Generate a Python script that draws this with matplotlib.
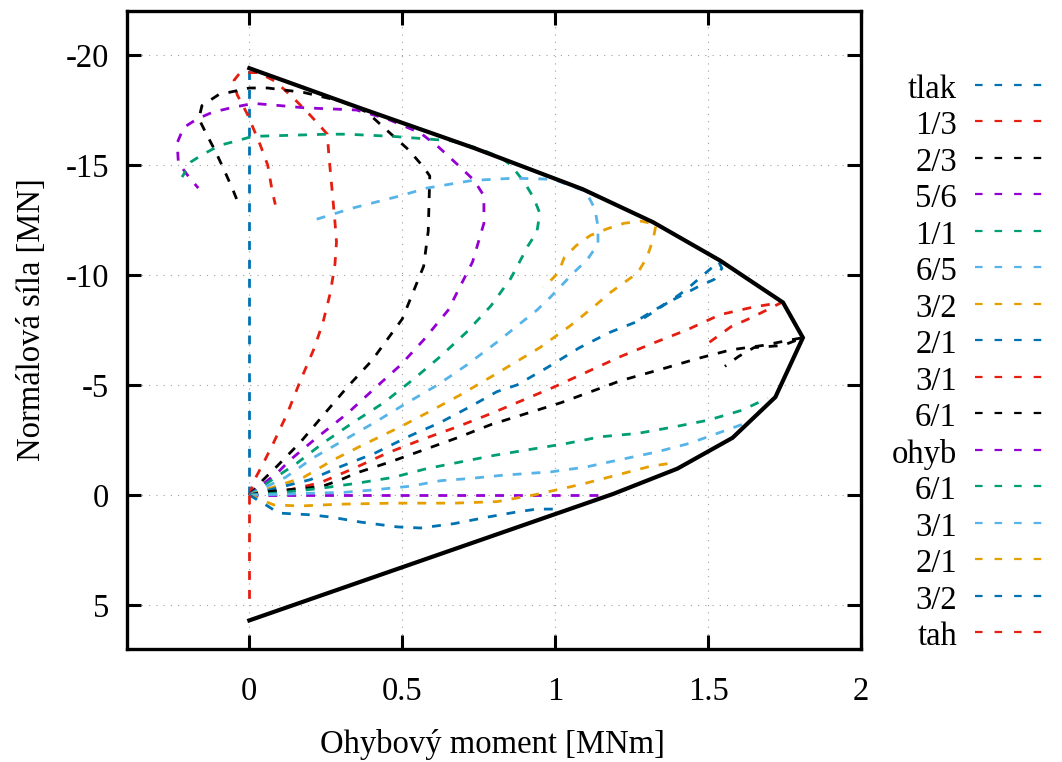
import matplotlib
matplotlib.use("Agg")
import matplotlib.pyplot as plt
from matplotlib.lines import Line2D

plt.rcParams['font.family'] = ['Liberation Serif', 'DejaVu Serif']
plt.rcParams['axes.unicode_minus'] = False

# --- colours (gnuplot default set) ---
BLUE = '#0072b2'
RED = '#e51e10'
BLACK = '#000000'
PURPLE = '#9400d3'
GREEN = '#009e73'
LBLUE = '#56b4e9'
ORANGE = '#e69f00'

# --- interaction envelope (M [MNm], N [MN]) ---
env_m = [0.0, 0.36, 0.735, 1.09, 1.32, 1.54, 1.745, 1.81, 1.72, 1.58, 1.40, 1.19, 0.0]
env_n = [-19.4, -17.6, -15.77, -13.9, -12.4, -10.65, -8.75, -7.15, -4.45, -2.6, -1.2, -0.05, 5.7]

# --- loading paths ---
tlak_m = [0.0, 0.0]
tlak_n = [0.0, -19.3]

r13_m = [0.0, 0.02, 0.046, 0.08, 0.124, 0.167, 0.21, 0.24, 0.265, 0.28, 0.285, 0.28, 0.27, 0.26,
         0.255, 0.22, 0.183, 0.14, 0.085, 0.03, -0.03, -0.05, -0.04, -0.006, 0.036, 0.06, 0.075, 0.085]
r13_n = [0.0, -0.77, -1.45, -2.4, -3.7, -5.2, -6.6, -7.8, -9.2, -10.5, -11.5, -12.4, -13.95, -15.45,
         -16.4, -16.95, -17.5, -18.1, -18.8, -19.2, -19.2, -18.85, -18.2, -17.3, -15.9, -15.0, -13.8, -13.2]

r23_m = [0.0, 0.046, 0.09, 0.167, 0.24, 0.32, 0.40, 0.5, 0.57, 0.585, 0.59, 0.57, 0.52, 0.44, 0.385,
         0.3, 0.177, 0.06, 0.0, -0.1, -0.155, -0.165, -0.14, -0.11, -0.085, -0.056, -0.04]
r23_n = [0.0, -0.7, -1.3, -2.4, -3.6, -4.9, -6.1, -8.0, -10.4, -12.0, -14.5, -14.9, -15.7, -16.7, -17.4,
         -17.9, -18.3, -18.5, -18.5, -18.2, -17.7, -17.1, -16.4, -15.6, -14.85, -13.95, -13.4]

r56_m = [0.0, 0.095, 0.134, 0.22, 0.32, 0.41, 0.494, 0.57, 0.65, 0.73, 0.767, 0.767, 0.735, 0.69, 0.62,
         0.56, 0.45, 0.35, 0.18, 0.1, 0.013, -0.06, -0.12, -0.17, -0.215, -0.236, -0.232, -0.2, -0.167]
r56_n = [0.0, -1.05, -1.6, -2.6, -3.7, -4.85, -5.9, -7.05, -8.4, -10.6, -12.35, -13.6, -14.3, -14.9, -15.8,
         -16.45, -17.1, -17.5, -17.6, -17.7, -17.8, -17.6, -17.4, -17.1, -16.7, -16.0, -15.1, -14.5, -13.95]

r11_m = [0.0, 0.156, 0.24, 0.34, 0.44, 0.54, 0.625, 0.71, 0.79, 0.855, 0.88, 0.91, 0.94, 0.95, 0.93,
         0.9, 0.855, 0.82, 0.75, 0.66, 0.47, 0.32, 0.255, 0.01, -0.04, -0.095, -0.15, -0.19, -0.22]
r11_n = [0.0, -1.45, -2.35, -3.3, -4.2, -5.3, -6.3, -7.4, -8.6, -9.85, -10.5, -11.3, -11.95, -12.8, -13.5,
         -14.2, -15.0, -15.35, -15.75, -16.1, -16.3, -16.4, -16.4, -16.3, -16.1, -15.9, -15.5, -15.15, -14.45]

r65_m = [0.0, 0.118, 0.21, 0.31, 0.41, 0.517, 0.615, 0.71, 0.81, 0.94, 0.985, 1.06, 1.105, 1.14, 1.14,
         1.13, 1.1, 0.995, 0.865, 0.73, 0.58, 0.494, 0.34, 0.2]
r65_n = [0.0, -0.8, -1.7, -2.5, -3.3, -4.2, -5.0, -5.9, -6.95, -8.4, -9.0, -10.1, -10.7, -11.4, -12.2,
         -13.0, -13.8, -14.35, -14.4, -14.3, -13.95, -13.6, -13.05, -12.45]

r32_m = [0.0, 0.177, 0.275, 0.375, 0.494, 0.59, 0.69, 0.8, 0.95, 1.05, 1.13, 1.18, 1.22, 1.27, 1.3,
         1.32, 1.33, 1.28, 1.225, 1.17, 1.115, 1.07, 1.03, 1.01, 0.975, 0.96]
r32_n = [0.0, -0.8, -1.6, -2.3, -3.1, -3.8, -4.55, -5.45, -6.7, -7.7, -8.6, -9.2, -9.6, -10.1, -10.8,
         -11.6, -12.3, -12.45, -12.35, -12.1, -11.8, -11.35, -10.8, -10.1, -9.6, -9.45]

r21_m = [0.0, 0.2, 0.3, 0.41, 0.527, 0.625, 0.72, 0.81, 0.875, 0.975, 1.08, 1.18, 1.28, 1.335, 1.38,
         1.43, 1.48, 1.535, 1.545, 1.52, 1.465, 1.41, 1.355, 1.3, 1.265]
r21_n = [0.0, -0.7, -1.3, -1.9, -2.7, -3.3, -4.0, -4.7, -5.0, -5.8, -6.7, -7.4, -7.95, -8.45, -8.85,
         -9.35, -9.95, -10.6, -10.3, -9.8, -9.45, -9.05, -8.65, -8.2, -7.9]

r31_m = [0.0, 0.12, 0.23, 0.34, 0.45, 0.56, 0.68, 0.79, 0.995, 1.215, 1.32, 1.43, 1.54, 1.65, 1.74,
         1.705, 1.64, 1.575, 1.53, 1.49]
r31_n = [0.0, -0.2, -0.55, -1.2, -1.9, -2.5, -3.1, -3.7, -4.9, -6.3, -6.9, -7.5, -8.2, -8.55, -8.75,
         -8.5, -8.05, -7.65, -7.2, -6.8]

r61_m = [0.0, 0.06, 0.118, 0.177, 0.24, 0.3, 0.35, 0.46, 0.57, 0.68, 0.79, 1.02, 1.215, 1.355, 1.465,
         1.575, 1.68, 1.77, 1.81, 1.745, 1.65, 1.6, 1.555]
r61_n = [0.0, -0.15, -0.23, -0.3, -0.4, -0.7, -1.0, -1.5, -2.05, -2.6, -3.2, -4.2, -5.2, -5.75, -6.2,
         -6.6, -6.8, -7.05, -7.15, -6.8, -6.7, -6.3, -5.85]

ohyb_m = [0.0, 1.17]
ohyb_n = [0.0, 0.0]

g61_m = [0.0, 0.1, 0.23, 0.35, 0.47, 0.58, 0.69, 0.8, 0.865, 1.04, 1.15, 1.27, 1.39, 1.5, 1.61, 1.695]
g61_n = [0.0, -0.1, -0.3, -0.53, -0.8, -1.2, -1.5, -1.8, -1.95, -2.35, -2.65, -2.8, -3.1, -3.4, -3.85, -4.4]

b31_m = [0.0, 0.1, 0.2, 0.31, 0.405, 0.526, 0.625, 0.72, 0.83, 0.985, 1.1, 1.21, 1.33, 1.44, 1.56, 1.64]
b31_n = [0.0, -0.03, -0.08, -0.12, -0.23, -0.4, -0.65, -0.75, -0.9, -1.05, -1.27, -1.6, -1.95, -2.35, -2.95, -3.35]

o21_m = [0.0, 0.08, 0.167, 0.29, 0.47, 0.67, 0.81, 0.93, 1.09, 1.2, 1.31, 1.38]
o21_n = [0.0, 0.45, 0.5, 0.42, 0.37, 0.37, 0.3, 0.0, -0.5, -0.9, -1.3, -1.45]

b32_m = [0.0, 0.06, 0.095, 0.2, 0.265, 0.363, 0.484, 0.56, 0.67, 0.78, 0.875, 0.94, 0.995]
b32_n = [0.0, 0.5, 0.82, 0.9, 1.0, 1.23, 1.45, 1.5, 1.3, 1.0, 0.77, 0.64, 0.64]

tah_m = [0.0, 0.0]
tah_n = [0.0, 5.0]

labels = ['tlak', '1/3', '2/3', '5/6', '1/1', '6/5', '3/2', '2/1',
          '3/1', '6/1', 'ohyb', '6/1', '3/1', '2/1', '3/2', 'tah']
colors = [BLUE, RED, BLACK, PURPLE, GREEN, LBLUE, ORANGE, BLUE,
          RED, BLACK, PURPLE, GREEN, LBLUE, ORANGE, BLUE, RED]
paths = [(tlak_m, tlak_n), (r13_m, r13_n), (r23_m, r23_n), (r56_m, r56_n),
         (r11_m, r11_n), (r65_m, r65_n), (r32_m, r32_n), (r21_m, r21_n),
         (r31_m, r31_n), (r61_m, r61_n), (ohyb_m, ohyb_n), (g61_m, g61_n),
         (b31_m, b31_n), (o21_m, o21_n), (b32_m, b32_n), (tah_m, tah_n)]

W, H = 1062, 762
fig = plt.figure(figsize=(W / 100, H / 100), dpi=100)
ax = fig.add_axes([127 / W, 1 - 649 / H, (861 - 127) / W, (649 - 11) / H])

dash = (0, (3.2, 3.6))
for (m, n), c in zip(paths, colors):
    ax.plot(m, n, color=c, lw=2.0, linestyle=dash)

ax.plot(env_m, env_n, color='black', lw=3.0, solid_joinstyle='miter')

ax.set_xlim(-0.4, 2.0)
ax.set_ylim(7, -22)
ax.set_xticks([0, 0.5, 1, 1.5, 2])
ax.set_xticklabels(['0', '0.5', '1', '1.5', '2'])
ax.set_yticks([-20, -15, -10, -5, 0, 5])
ax.set_yticklabels(['-20', '-15', '-10', '-5', '0', '5'])
ax.tick_params(direction='in', length=10, width=2.2, labelsize=23.5,
               top=True, right=True)
ax.tick_params(axis='x', pad=20)
ax.tick_params(axis='y', pad=13)
for s in ax.spines.values():
    s.set_linewidth(2.4)
ax.grid(True, color='#a0a0a0', lw=0.8, linestyle=(0, (1, 5.5)))
ax.set_axisbelow(True)

fig.text(492 / W, 1 - 744 / H, 'Ohybový moment [MNm]', ha='center', va='center', fontsize=23.5)
fig.text(32 / W, 1 - 320 / H, 'Normálová síla [MN]', ha='center', va='center',
         rotation=90, fontsize=23.5)

# legend, gnuplot style: text right-aligned, sample on the right
for i, (lab, c) in enumerate(zip(labels, colors)):
    yp = 85 + i * 36.47
    fig.text(957 / W, 1 - (yp + 13) / H, lab, ha='right', va='baseline', fontsize=23.5)
    fig.add_artist(Line2D([975 / W, 1053 / W], [1 - yp / H, 1 - yp / H],
                          color=c, lw=1.6, linestyle=(0, (3.4, 5.4))))

fig.savefig('out.png', dpi=100)
